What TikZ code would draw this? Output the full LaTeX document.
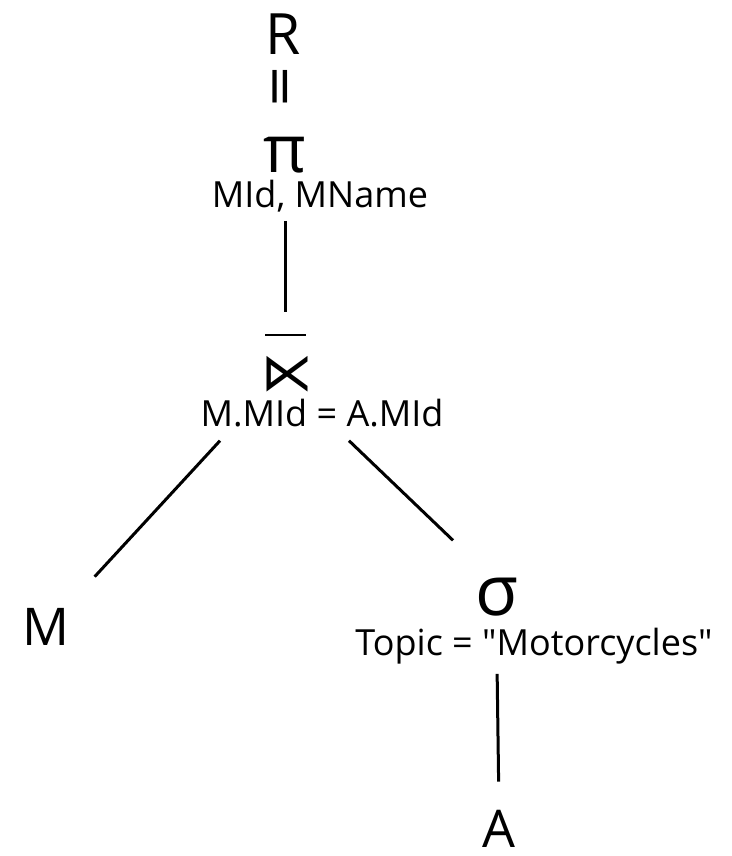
\documentclass[tikz,border=0pt]{standalone}
\usepackage{fontspec}
\setmainfont{Open Sans}
\newfontfamily\symfont{DejaVu Sans}
\usetikzlibrary{positioning}

\begin{document}
\begin{tikzpicture}[x=1pt,y=-1pt,
  big/.style={font=\fontsize{52}{52}\selectfont,inner sep=0pt,anchor=base},
  cond/.style={font=\fontsize{36}{36}\selectfont,inner sep=0pt,anchor=base},
  edge/.style={line width=3pt}]
\useasboundingbox (0,0) rectangle (731,856);
\path
(283,55)  node[big,font=\fontsize{57}{57}\selectfont]  (r) {R}
(285,87)  node[big,rotate=90,anchor=center,font=\symfont\fontsize{52}{52}\selectfont] (eq) {=}
(285,172) node[big,font=\fontsize{66}{66}\selectfont]  (pi) {π}
(320,207) node[cond] (picond) {MId, MName}
(287,390) node[big,font=\symfont\fontsize{52}{52}\selectfont] (aj) {⋉}
(322,426) node[cond] (jcond) {M.MId = A.MId}
(46,645)  node[big]  (m) {M}
(497,615) node[big,font=\fontsize{70}{70}\selectfont]  (sigma) {σ}
(534,655) node[cond] (scond) {Topic = \textquotedbl Motorcycles\textquotedbl}
(499,847) node[big]  (a) {A};
\coordinate (bar) at (285,335);

% overline of the antijoin
\draw[line width=2pt] (bar) ++(-20,0) -- ++(41,0);

\draw[edge,shorten <=9pt,shorten >=23pt] (pi |- picond.south) -- (bar);
\draw[edge] ([xshift=-102pt,yshift=-14pt]jcond.south) -- ([xshift=25pt,yshift=31pt]m.north east);
\draw[edge] ([xshift=27pt,yshift=-14pt]jcond.south) -- ([xshift=-44pt,yshift=37pt]sigma.north);
\draw[edge,shorten <=10pt,shorten >=28pt] (sigma |- scond.south) -- (a.north);
\end{tikzpicture}
\end{document}
